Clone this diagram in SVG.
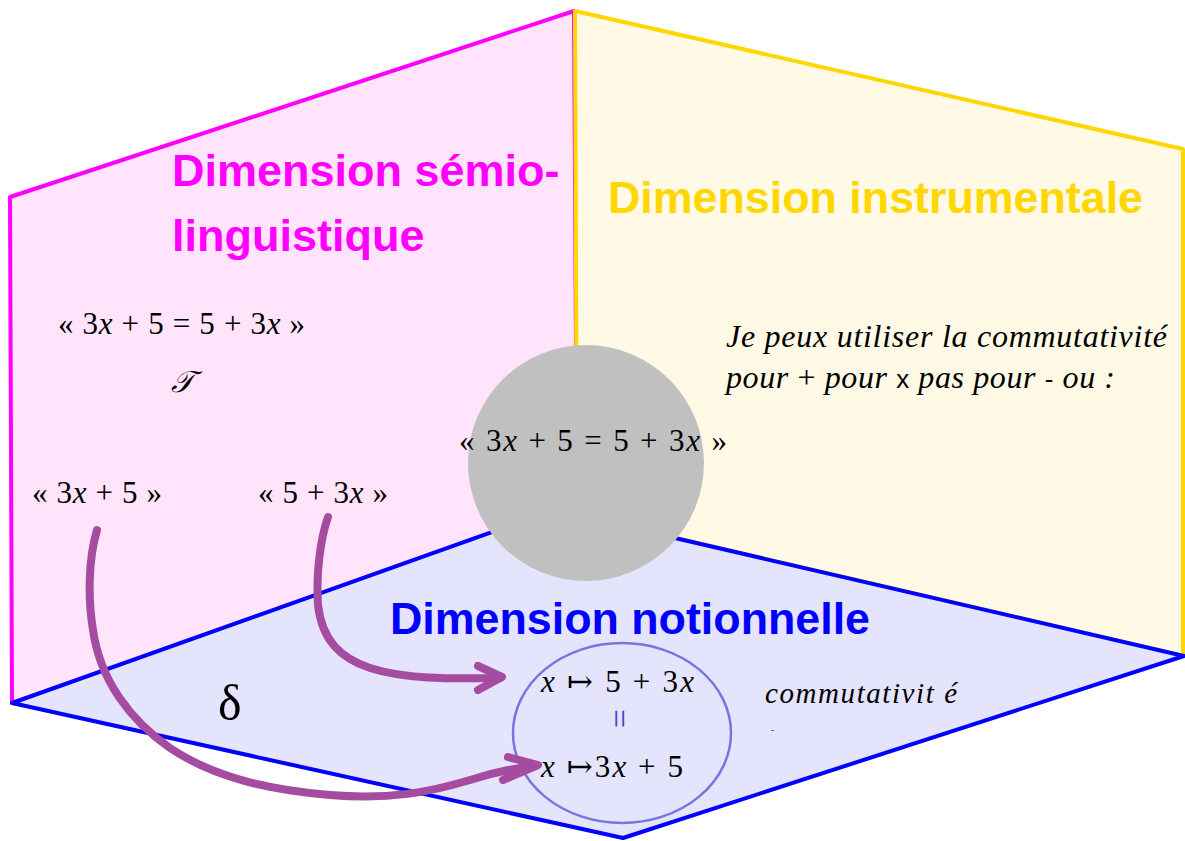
<svg xmlns="http://www.w3.org/2000/svg" width="1185" height="841" viewBox="0 0 1185 841">
<style>
.h{font-family:"Liberation Sans",Arial,sans-serif;font-weight:bold;font-size:45px}
.m{font-family:"Liberation Serif","Times New Roman","DejaVu Serif",serif;font-size:31px;fill:#000}
.i{font-style:italic}
.s{font-family:"Liberation Sans",Arial,sans-serif;font-style:normal}
.arr{fill:none;stroke:#a64ca0;stroke-width:8;stroke-linecap:round;stroke-linejoin:round}
</style>
<rect width="1185" height="841" fill="#fff"/>
<g id="wall-semio">
<polygon points="10,197 574,11 577,515 12,703" fill="#ffe4fc" stroke="#ff00ff" stroke-width="4" stroke-linejoin="round"/>
<text class="h" x="172" y="186" fill="#ff00ff">Dimension sémio-</text>
<text class="h" x="172" y="251" fill="#ff00ff">linguistique</text>
<text class="m" x="58" y="334" textLength="247" lengthAdjust="spacing">« 3<tspan class="i">x</tspan> + 5 = 5 + 3<tspan class="i">x</tspan> »</text>
<text x="171" y="392" font-family="'DejaVu Serif','DejaVu Sans',serif" font-size="30" font-style="italic">𝒯</text>
<text class="m" x="32" y="503" textLength="130" lengthAdjust="spacing">« 3<tspan class="i">x</tspan> + 5 »</text>
<text class="m" x="258" y="503" textLength="130" lengthAdjust="spacing">« 5 + 3<tspan class="i">x</tspan> »</text>
</g>
<g id="wall-instrumentale">
<polygon points="575,11 1183,149 1183,656 577,515" fill="#fff9e6" stroke="#ffd700" stroke-width="4" stroke-linejoin="round"/>
<text class="h" x="608" y="213" fill="#ffd700" textLength="535" lengthAdjust="spacingAndGlyphs">Dimension instrumentale</text>
<text class="m i" x="726" y="347" style="font-size:32px" textLength="441" lengthAdjust="spacing">Je peux utiliser la commutativité</text>
<text class="m" x="726" y="388" style="font-size:32px" textLength="389" lengthAdjust="spacing"><tspan class="i">pour</tspan> + <tspan class="i">pour</tspan> <tspan class="s" style="font-size:26px">x</tspan> <tspan class="i">pas pour</tspan> <tspan class="s" style="font-size:26px">-</tspan> <tspan class="i">ou :</tspan></text>
</g>
<g id="floor-notionnelle">
<polygon points="12,703 554,510 1184,656 623,838" fill="#e4e4fc" stroke="#0000ff" stroke-width="4" stroke-linejoin="round"/>
<text class="h" x="390" y="634" fill="#0000ff" textLength="480" lengthAdjust="spacingAndGlyphs">Dimension notionnelle</text>
<text x="218" y="720" font-family="'Liberation Serif','DejaVu Serif',serif" font-size="50">δ</text>
<ellipse cx="622" cy="733" rx="109" ry="90" fill="none" stroke="#5a5ad6" stroke-opacity="0.8" stroke-width="2.5"/>
<text class="m" x="541" y="692" textLength="153" lengthAdjust="spacing"><tspan class="i">x</tspan> ↦ 5 + 3<tspan class="i">x</tspan></text>
<text x="589" y="712" font-family="'Liberation Serif',serif" font-size="34" fill="#3c3cd8" transform="rotate(90 600 720)">=</text>
<text class="m" x="541" y="777" textLength="142" lengthAdjust="spacing"><tspan class="i">x</tspan> ↦3<tspan class="i">x</tspan> + 5</text>
<text class="m i" x="765" y="703" style="font-size:29px" textLength="192" lengthAdjust="spacing">commutativit é</text>
<text class="m" x="771" y="733" style="font-size:9px">-</text>
</g>
<g id="connectors">
<path class="arr" d="M328,517 C320,540 316,575 318,605 C322,640 340,658 370,668 C405,679 445,679 500,678"/>
<path class="arr" d="M478,666 L502,677 L478,690"/>
<path class="arr" d="M97,530 C88,560 88,600 93,630 C100,680 130,720 170,748 C215,778 270,790 330,795 C390,800 430,792 470,780 C495,772 515,768 535,766"/>
<path class="arr" d="M508,757 L538,765 L503,780"/>
</g>
<g id="sphere">
<circle cx="586" cy="463" r="118" fill="#c0c0c0"/>
<text class="m" x="459" y="451" textLength="268" lengthAdjust="spacing">« 3<tspan class="i">x</tspan> + 5  =  5 + 3<tspan class="i">x</tspan> »</text>
</g>
</svg>
